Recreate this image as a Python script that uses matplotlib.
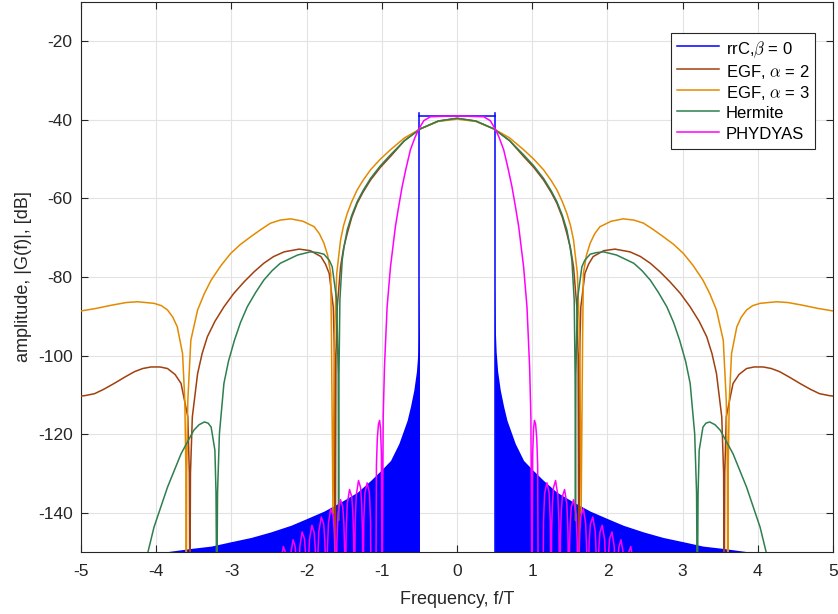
import numpy as np
import matplotlib
matplotlib.use("Agg")
import matplotlib.pyplot as plt

plt.rcParams["font.family"] = ["Liberation Sans", "DejaVu Sans"]
plt.rcParams["mathtext.fontset"] = "cm"
plt.rcParams["axes.unicode_minus"] = False

# --- values (positive half; spectra are symmetric) ---
# rrC, beta = 0: ideal rectangle plus the envelope of its leakage ripple
rrc_top = -39.0
rrc_edge = 0.5
rrc_env_f = [0.5, 0.505, 0.51, 0.52, 0.54, 0.575, 0.62, 0.664, 0.774, 0.885,
             1.0, 1.15, 1.327, 1.549, 1.77, 2.0, 2.21, 2.48, 2.74, 3.01, 3.27,
             3.54, 3.89, 4.1]
rrc_env_db = [-82, -88, -94, -99, -104, -108.8, -113, -116.5, -122.4, -126.7,
              -129, -131.8, -134.8, -137.3, -139.6, -141.5, -143.2, -144.9,
              -146.3, -147.4, -148.5, -149.1, -150, -151]

egf2_f = [0, 0.25, 0.49, 0.7, 0.885, 1.02, 1.15, 1.25, 1.327, 1.40, 1.46,
          1.51, 1.549, 1.593, 1.61, 1.62, 1.63, 1.646, 1.70, 1.75, 1.81, 1.95,
          2.10, 2.30, 2.44, 2.57, 2.70, 2.83, 2.97, 3.10, 3.22, 3.32, 3.39,
          3.45, 3.52, 3.545, 3.553, 3.56, 3.58, 3.67, 3.75, 3.85, 3.95, 4.07,
          4.18, 4.29, 4.42, 4.56, 4.70, 4.82, 4.95, 5.05]
egf2_db = [-39.6, -40.3, -42.3, -45.3, -49.3, -52.1, -55.3, -58.4, -61.2,
           -64.8, -68.9, -72.8, -77.4, -87.6, -100, -165, -100, -87.6, -79.1,
           -76.7, -74.8, -73.3, -72.9, -73.6, -74.8, -76.5, -78.7, -81.2,
           -84.2, -87.6, -91.3, -95.2, -99.5, -104.6, -115.6, -130, -165, -130,
           -115.6, -107.1, -104.8, -103.3, -102.9, -102.9, -103.3, -104.1,
           -105.5, -107.1, -108.6, -109.7, -110.2, -110.4]

egf3_f = [0, 0.25, 0.49, 0.7, 0.885, 1.02, 1.15, 1.25, 1.327, 1.40, 1.46,
          1.51, 1.549, 1.60, 1.63, 1.65, 1.67, 1.68, 1.72, 1.77, 1.83, 1.90,
          2.05, 2.21, 2.35, 2.48, 2.60, 2.74, 2.88, 3.01, 3.14, 3.27, 3.36,
          3.45, 3.54, 3.58, 3.595, 3.60, 3.605, 3.62, 3.65, 3.72, 3.78, 3.85,
          3.93, 4.03, 4.25, 4.40, 4.60, 4.80, 5.05]
egf3_db = [-39.8, -40.4, -42.3, -44.6, -47.6, -50.0, -52.7, -55.4, -57.8,
           -60.8, -63.8, -67.0, -70.6, -79.1, -95, -140.3, -95, -79.1, -74.5,
           -71.4, -69.0, -67.2, -65.8, -65.2, -65.5, -66.3, -67.8, -69.7,
           -71.7, -74, -77.1, -80.8, -84.2, -88.4, -96.1, -111.4, -130, -165,
           -130, -111.4, -99.5, -92.7, -90.2, -88.4, -87.3, -86.7, -86.3,
           -86.5, -87.2, -88.0, -88.8]

herm_f = [0, 0.25, 0.49, 0.7, 0.885, 1.02, 1.15, 1.25, 1.327, 1.40, 1.46,
          1.50, 1.527, 1.558, 1.57, 1.575, 1.58, 1.60, 1.66, 1.70, 1.77, 1.85,
          1.95, 2.12, 2.35, 2.46, 2.57, 2.68, 2.79, 2.88, 2.96, 3.04, 3.10,
          3.16, 3.185, 3.195, 3.205, 3.22, 3.27, 3.31, 3.36, 3.43, 3.50, 3.67,
          3.85, 4.03, 4.11, 4.2]
herm_db = [-39.6, -40.3, -42.3, -45.3, -48.9, -51.7, -54.9, -58.0, -60.8,
           -64.3, -68.0, -72.0, -75.7, -85.9, -105, -142, -105, -85.9, -77.4,
           -75.7, -74.2, -73.8, -73.6, -74.4, -76.5, -78.4, -80.8, -84.0,
           -87.6, -91.6, -96.1, -101.5, -107.1, -119.9, -135, -165, -135,
           -124.1, -118.2, -117.2, -116.9, -117.6, -119.0, -125.0, -133.5,
           -143.7, -150, -156]

phy_f = [0, 0.2, 0.354, 0.442, 0.51, 0.56, 0.62, 0.68, 0.73, 0.78, 0.82,
         0.885, 0.93, 0.965, 0.982, 0.996,
         1.006, 1.018, 1.03, 1.045, 1.06, 1.072, 1.08,
         1.14, 1.150, 1.165, 1.195, 1.225, 1.240, 1.25,
         1.258, 1.268, 1.283, 1.31, 1.34, 1.355, 1.365,
         1.375, 1.385, 1.40, 1.43, 1.46, 1.475, 1.485,
         1.495, 1.505, 1.52, 1.55, 1.583, 1.598, 1.608,
         1.622, 1.632, 1.647, 1.68, 1.71, 1.725, 1.735,
         1.748, 1.758, 1.773, 1.805, 1.838, 1.853, 1.863,
         1.875, 1.885, 1.90, 1.93, 1.963, 1.978, 1.988,
         2.003, 2.013, 2.028, 2.06, 2.09, 2.105, 2.115,
         2.127, 2.137, 2.152, 2.18, 2.213, 2.228, 2.238,
         2.252, 2.262, 2.277, 2.31, 2.34, 2.355, 2.365]
phy_db = [-39.0, -39.1, -39.2, -40.2, -42.4, -44.5, -47.6, -52.5, -57.0,
          -62.5, -67.2, -77.4, -87.6, -102.9, -115.6, -165,
          -125, -118.5, -116.5, -117.5, -121, -128, -165,
          -165, -142, -135, -132.4, -135, -142, -165,
          -144.4, -137.8, -133.6, -131.8, -135.5, -142.7, -165,
          -146.7, -140.1, -135.9, -134.1, -137.8, -145.0, -165,
          -149.3, -142.7, -138.5, -136.7, -140.4, -147.6, -165,
          -151.6, -145.0, -140.8, -139.0, -142.7, -149.9, -165,
          -153.7, -147.1, -142.9, -141.1, -144.8, -152.0, -165,
          -155.8, -149.2, -145.0, -143.2, -146.9, -154.1, -165,
          -157.5, -150.9, -146.7, -144.9, -148.6, -155.8, -165,
          -159.5, -152.9, -148.7, -146.9, -150.6, -157.8, -165,
          -161.2, -154.6, -150.4, -148.6, -152.3, -159.5, -165]

labels = ["rrC,$\\beta$ = 0", "EGF, $\\alpha$ = 2", "EGF, $\\alpha$ = 3",
          "Hermite", "PHYDYAS"]
colors = ["#0000ff", "#a0400f", "#e38a00", "#2e7f4f", "#ff00ff"]


def mirror(f, v):
    f = np.asarray(f, float)
    v = np.asarray(v, float)
    if f[0] == 0:
        return np.concatenate([-f[:0:-1], f]), np.concatenate([v[:0:-1], v])
    return np.concatenate([-f[::-1], f]), np.concatenate([v[::-1], v])


fig = plt.figure(figsize=(8.38, 6.14), dpi=100)
ax = fig.add_axes([0.0967, 0.101, 0.8974, 0.8957])

# rrC: leakage envelope (both sides) + rectangle
ef = np.asarray(rrc_env_f)
ed = np.asarray(rrc_env_db)
ax.fill_between(ef, ed, -170, color=colors[0], lw=0, zorder=2)
ax.fill_between(-ef, ed, -170, color=colors[0], lw=0, zorder=2)
ax.plot([-rrc_edge, -rrc_edge], [-170, rrc_top + 0.7], color=colors[0],
        lw=1.1, zorder=3, label=labels[0])
ax.plot([rrc_edge, rrc_edge], [-170, rrc_top + 0.7], color=colors[0],
        lw=1.1, zorder=3)
ax.plot([-rrc_edge, rrc_edge], [rrc_top, rrc_top], color=colors[0], lw=1.1,
        zorder=3)

series = [(egf2_f, egf2_db), (egf3_f, egf3_db), (herm_f, herm_db),
          (phy_f, phy_db)]
for (f, v), lab, c in zip(series, labels[1:], colors[1:]):
    xf, yv = mirror(f, v)
    ax.plot(xf, yv, color=c, lw=1.1, label=lab, zorder=4)

ax.set_xlim(-5, 5)
ax.set_ylim(-150, -10)
ax.set_xticks(np.arange(-5, 6, 1))
ax.set_yticks(np.arange(-140, -10, 20))
ax.grid(True, color="#e3e3e3", lw=0.8)
ax.set_axisbelow(True)
for s in ax.spines.values():
    s.set_color("#262626")
    s.set_linewidth(0.8)
ax.tick_params(direction="in", length=5, colors="#262626", labelsize=12.5,
               top=True, right=True)
ax.tick_params(axis="x", pad=9)
ax.tick_params(axis="y", pad=6)
ax.set_xlabel("Frequency, f/T", fontsize=13, color="#262626", labelpad=8)
ax.set_ylabel("amplitude, |G(f)|, [dB]", fontsize=13, color="#262626",
              labelpad=4)

leg = ax.legend(loc="upper right", bbox_to_anchor=(0.976, 0.9436),
                fontsize=12, frameon=True, fancybox=False, framealpha=1,
                edgecolor="#262626", handlelength=2.5, handletextpad=0.42,
                handleheight=1.4, labelspacing=0.1, borderpad=0.35,
                borderaxespad=0)
leg.get_frame().set_linewidth(0.8)

fig.savefig("out.png", dpi=100)
